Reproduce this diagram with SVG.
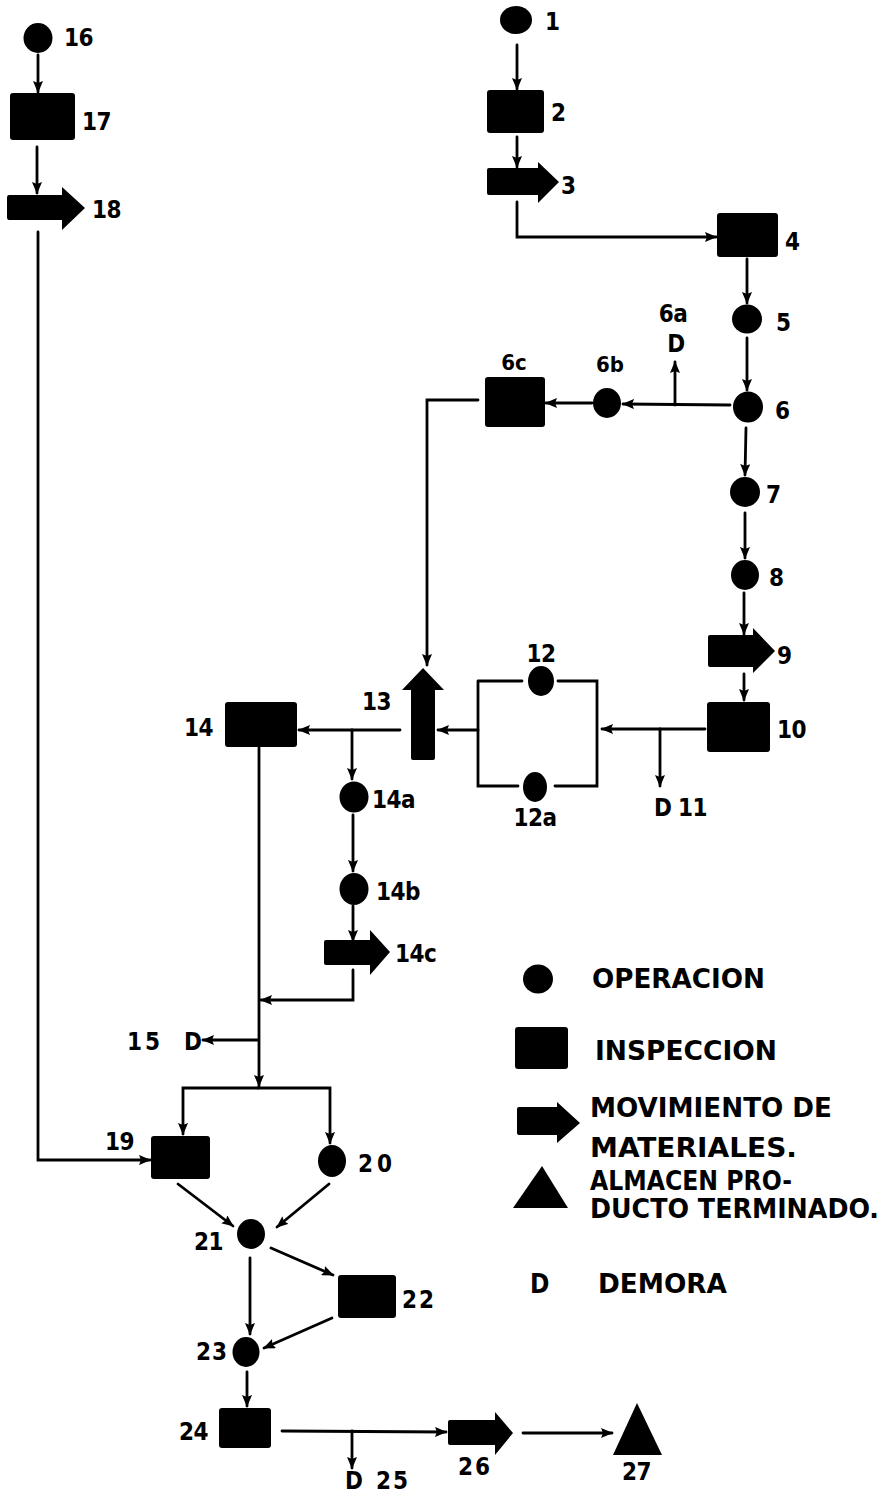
<svg xmlns="http://www.w3.org/2000/svg" width="887" height="1496" viewBox="0 0 887 1496">
<defs>
<marker id="ah" markerUnits="userSpaceOnUse" markerWidth="12" markerHeight="10" refX="11" refY="5" orient="auto">
<path d="M0,0 L12,5 L0,10 L2,5 Z" fill="#000"/>
</marker>
<style>
.c{fill:none;stroke:#000;stroke-width:2.8;stroke-linecap:round;stroke-linejoin:miter}
.a{marker-end:url(#ah)}
.s{fill:#000}
text{font-family:"DejaVu Sans Condensed","DejaVu Sans","Liberation Sans",sans-serif;font-stretch:condensed;font-weight:bold;fill:#000}
.l{font-size:24px;letter-spacing:-0.5px}
.r{font-size:24px;letter-spacing:-0.5px;text-anchor:end}
.m{font-size:24px;letter-spacing:-0.5px;text-anchor:middle}
.ms{font-size:22px;text-anchor:middle}
.g{font-size:26px}
</style>
</defs>
<rect width="887" height="1496" fill="#fff"/>

<g id="connectors">
<path class="c a" d="M38,55 L38,92"/>
<path class="c a" d="M37,147 L37,193"/>
<path class="c a" d="M38,232 L38,1160 L150,1160"/>
<path class="c a" d="M517,45 L517,89"/>
<path class="c a" d="M517,137 L517,167"/>
<path class="c a" d="M517,202 L517,237 L716,237"/>
<path class="c a" d="M747,259 L747,303"/>
<path class="c a" d="M747,338 L747,390"/>
<path class="c a" d="M730,405 L623,404"/>
<path class="c a" d="M675,405 L675,362"/>
<path class="c a" d="M592,403 L546,403"/>
<path class="c a" d="M478,400 L427,400 L427,665"/>
<path class="c a" d="M746,428 L745,475"/>
<path class="c a" d="M745,513 L745,558"/>
<path class="c a" d="M744,593 L744,634"/>
<path class="c a" d="M744,674 L744,700"/>
<path class="c a" d="M705,729 L602,729"/>
<path class="c a" d="M660,729 L660,786"/>
<path class="c" d="M478,681 L522,681 M558,681 L597,681 L597,786 L555,786 M518,786 L478,786 L478,681"/>
<path class="c a" d="M478,730 L438,730"/>
<path class="c a" d="M400,730 L299,730"/>
<path class="c a" d="M352,730 L352,779"/>
<path class="c a" d="M259,748 L259,1086"/>
<path class="c a" d="M353,815 L353,871"/>
<path class="c a" d="M353,906 L353,941"/>
<path class="c a" d="M353,970 L353,1000 L261,1000"/>
<path class="c a" d="M258,1040 L203,1040"/>
<path class="c a" d="M258,1088 L183,1088 L183,1134"/>
<path class="c a" d="M258,1088 L330,1088 L330,1143"/>
<path class="c a" d="M178,1184 L233,1226"/>
<path class="c a" d="M329,1184 L277,1227"/>
<path class="c a" d="M271,1248 L333,1275"/>
<path class="c a" d="M250,1258 L250,1334"/>
<path class="c a" d="M332,1318 L264,1348"/>
<path class="c a" d="M247,1372 L247,1406"/>
<path class="c a" d="M282,1431 L446,1432"/>
<path class="c a" d="M352,1431 L352,1468"/>
<path class="c a" d="M523,1433 L612,1433"/>
</g>

<g id="n16"><ellipse class="s" cx="38" cy="38" rx="14.5" ry="15"/><text class="l" x="64" y="46">16</text></g>
<g id="n17"><rect class="s" x="10" y="93" width="65" height="47" rx="3"/><text class="l" x="82" y="130">17</text></g>
<g id="n18"><path class="s" d="M9,195 L62,195 L62,187 L85,208 L62,230 L62,220 L9,220 Q7,220 7,217 L7,198 Q7,195 9,195 Z"/><text class="l" x="92" y="218">18</text></g>

<g id="n1"><ellipse class="s" cx="516" cy="20" rx="16" ry="14"/><text class="l" x="545" y="30">1</text></g>
<g id="n2"><rect class="s" x="487" y="90" width="57" height="43" rx="3"/><text class="l" x="551" y="121">2</text></g>
<g id="n3"><path class="s" d="M489,168 L538,168 L538,162 L559,182 L538,203 L538,195 L489,195 Q487,195 487,193 L487,170 Q487,168 489,168 Z"/><text class="l" x="561" y="194">3</text></g>
<g id="n4"><rect class="s" x="717" y="213" width="61" height="44" rx="3"/><text class="l" x="785" y="250">4</text></g>
<g id="n5"><ellipse class="s" cx="747" cy="319" rx="15" ry="14.5"/><text class="l" x="776" y="331">5</text></g>
<g id="n6"><ellipse class="s" cx="748" cy="407" rx="15" ry="15.5"/><text class="l" x="775" y="419">6</text></g>
<g id="n6a"><text class="m" x="673" y="322">6a</text><text class="m" x="676" y="352">D</text></g>
<g id="n6b"><ellipse class="s" cx="607" cy="403" rx="14" ry="15"/><text class="ms" x="610" y="372">6b</text></g>
<g id="n6c"><rect class="s" x="485" y="377" width="60" height="50" rx="3"/><text class="ms" x="514" y="370">6c</text></g>
<g id="n7"><ellipse class="s" cx="745" cy="492" rx="15" ry="15"/><text class="l" x="766" y="503">7</text></g>
<g id="n8"><ellipse class="s" cx="745" cy="575" rx="14" ry="15"/><text class="l" x="769" y="586">8</text></g>
<g id="n9"><path class="s" d="M710,635 L753,635 L753,628 L775,651 L753,673 L753,667 L710,667 Q708,667 708,665 L708,637 Q708,635 710,635 Z"/><text class="l" x="777" y="664">9</text></g>
<g id="n10"><rect class="s" x="707" y="702" width="63" height="50" rx="3"/><text class="l" x="777" y="738">10</text></g>
<g id="n11"><text class="l" x="654" y="816">D</text><text class="l" x="678" y="816">11</text></g>
<g id="n12"><ellipse class="s" cx="541" cy="681" rx="13" ry="15"/><text class="m" x="541" y="662">12</text></g>
<g id="n12a"><ellipse class="s" cx="535" cy="787" rx="12" ry="15"/><text class="m" x="535" y="826">12a</text></g>
<g id="n13"><path class="s" d="M411,690 L402,690 L423,668 L444,690 L435,690 L435,758 Q435,760 433,760 L413,760 Q411,760 411,758 Z"/><text class="r" x="391" y="710">13</text></g>
<g id="n14"><rect class="s" x="225" y="702" width="72" height="45" rx="3"/><text class="r" x="213" y="736">14</text></g>
<g id="n14a"><ellipse class="s" cx="354" cy="797" rx="14.5" ry="15.5"/><text class="l" x="372" y="808">14a</text></g>
<g id="n14b"><ellipse class="s" cx="354" cy="889" rx="14.5" ry="16"/><text class="l" x="376" y="900">14b</text></g>
<g id="n14c"><path class="s" d="M326,940 L370,940 L370,930 L390,952 L370,975 L370,965 L326,965 Q324,965 324,963 L324,942 Q324,940 326,940 Z"/><text class="l" x="395" y="962">14c</text></g>
<g id="n15"><text class="l" x="127" y="1050" style="letter-spacing:3px">15</text><text class="l" x="184" y="1050">D</text></g>
<g id="n19"><rect class="s" x="151" y="1136" width="59" height="43" rx="3"/><text class="r" x="134" y="1150">19</text></g>
<g id="n20"><ellipse class="s" cx="332" cy="1161" rx="14" ry="16"/><text class="l" x="358" y="1172" style="letter-spacing:4px">20</text></g>
<g id="n21"><ellipse class="s" cx="251" cy="1234" rx="14" ry="15"/><text class="r" x="223" y="1250">21</text></g>
<g id="n22"><rect class="s" x="338" y="1275" width="58" height="43" rx="3"/><text class="l" x="402" y="1308" style="letter-spacing:2px">22</text></g>
<g id="n23"><ellipse class="s" cx="246" cy="1352" rx="13.5" ry="15"/><text class="r" x="228" y="1360" style="letter-spacing:1px">23</text></g>
<g id="n24"><rect class="s" x="219" y="1408" width="52" height="40" rx="3"/><text class="r" x="208" y="1440">24</text></g>
<g id="n25"><text class="l" x="345" y="1489">D</text><text class="l" x="376" y="1489" style="letter-spacing:2px">25</text></g>
<g id="n26"><path class="s" d="M450,1420 L495,1420 L495,1412 L513,1433 L495,1455 L495,1445 L450,1445 Q448,1445 448,1443 L448,1422 Q448,1420 450,1420 Z"/><text class="l" x="458" y="1475" style="letter-spacing:2px">26</text></g>
<g id="n27"><path class="s" d="M637,1403 L662,1455 L613,1455 Z"/><text class="l" x="622" y="1480">27</text></g>

<g id="legend">
<ellipse class="s" cx="538" cy="979" rx="15" ry="14.5"/>
<text class="g" x="592" y="988" textLength="173" lengthAdjust="spacingAndGlyphs">OPERACION</text>
<rect class="s" x="515" y="1027" width="53" height="42" rx="3"/>
<text class="g" x="595" y="1060" textLength="182" lengthAdjust="spacingAndGlyphs">INSPECCION</text>
<path class="s" d="M519,1107 L557,1107 L557,1102 L580,1123 L557,1143 L557,1135 L519,1135 Q517,1135 517,1133 L517,1109 Q517,1107 519,1107 Z"/>
<text class="g" x="590" y="1117" textLength="242" lengthAdjust="spacingAndGlyphs">MOVIMIENTO DE</text>
<text class="g" x="590" y="1157" textLength="207" lengthAdjust="spacingAndGlyphs">MATERIALES.</text>
<path class="s" d="M542,1166 L568,1208 L513,1208 Z"/>
<text class="g" x="590" y="1190" textLength="202" lengthAdjust="spacingAndGlyphs">ALMACEN PRO-</text>
<text class="g" x="590" y="1218" textLength="289" lengthAdjust="spacingAndGlyphs">DUCTO TERMINADO.</text>
<text class="g" x="530" y="1293">D</text>
<text class="g" x="598" y="1293" textLength="129" lengthAdjust="spacingAndGlyphs">DEMORA</text>
</g>
</svg>
